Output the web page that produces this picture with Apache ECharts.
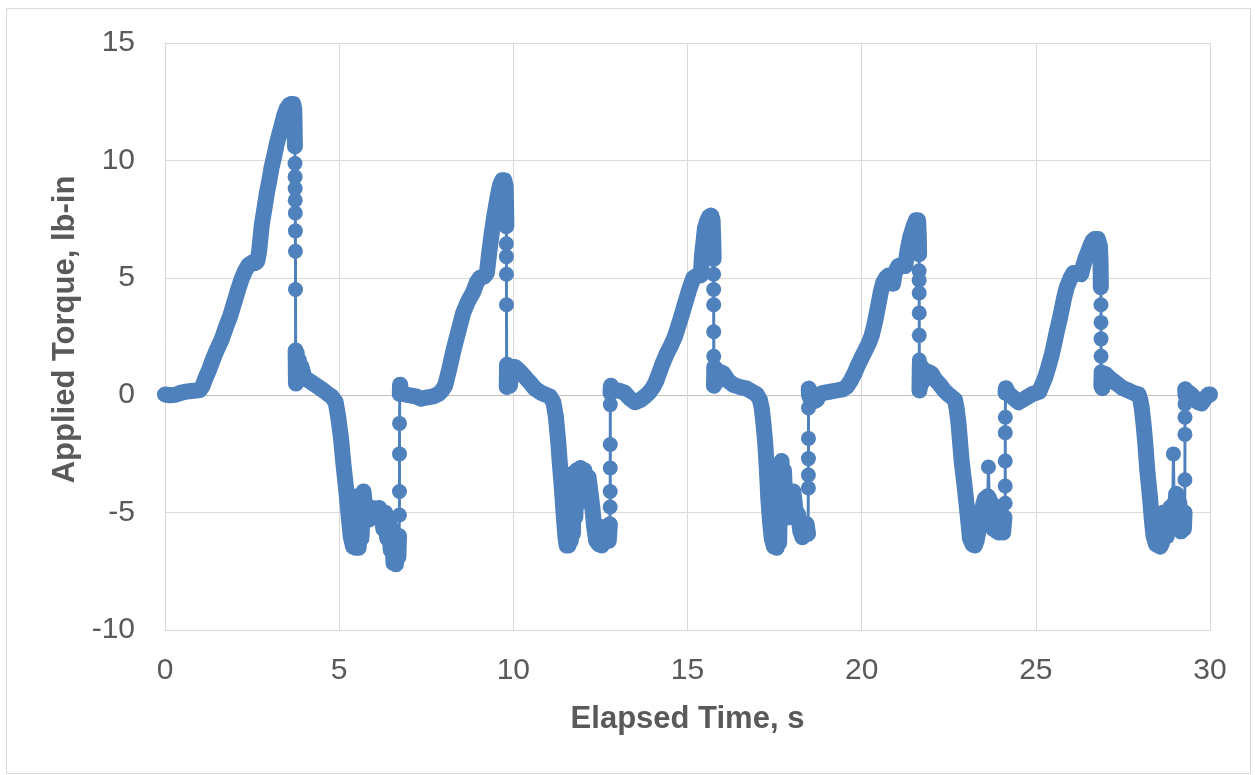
<!DOCTYPE html>
<html><head><meta charset="utf-8">
<script src="https://cdn.jsdelivr.net/npm/echarts@6/dist/echarts.min.js"></script>
<style>html,body{margin:0;padding:0;background:#fff}#c{width:1255px;height:775px}</style>
</head><body><div id="c"></div>
<script>
// Axis ticks
const xTicks = [0, 5, 10, 15, 20, 25, 30];
const yTicks = [-10, -5, 0, 5, 10, 15];

// Data segments [time s, torque lb-in], in time order
const climb1 = [[0,0.03],[0.15,0.0],[0.3,0.02],[0.45,0.1],[0.6,0.15],[0.75,0.18],[0.9,0.2],[1.0,0.22],[1.08,0.4],[1.15,0.68],[1.27,1.1],[1.39,1.58],[1.51,2.0],[1.63,2.39],[1.75,2.9],[1.87,3.37],[1.98,3.9],[2.1,4.5],[2.2,4.95],[2.3,5.3],[2.4,5.55],[2.49,5.64],[2.58,5.62],[2.65,5.7],[2.7,6.1],[2.78,7.27],[2.85,7.9],[2.92,8.57],[2.99,9.1],[3.06,9.7],[3.14,10.2],[3.21,10.7],[3.28,11.1],[3.35,11.5],[3.42,11.9],[3.49,12.2],[3.56,12.35],[3.62,12.4],[3.68,12.4],[3.71,12.2],[3.72,11.6],[3.73,10.6]];
const drop1 = [[3.733,9.87],[3.735,9.3],[3.737,8.8],[3.739,8.3],[3.741,7.76],[3.743,7.0],[3.745,6.13],[3.747,4.5]];
const trough1 = [[3.75,1.9],[3.76,0.5],[3.78,1.8],[3.8,0.6],[3.84,1.5],[3.88,0.8],[3.92,1.2],[4.0,0.75],[4.1,0.65],[4.25,0.5],[4.4,0.35],[4.55,0.2],[4.68,0.05],[4.78,-0.05],[4.9,-0.3],[4.97,-0.9],[5.05,-1.8],[5.12,-2.9],[5.2,-4.0],[5.27,-5.1],[5.33,-6.0],[5.4,-6.45],[5.44,-4.6],[5.48,-6.5],[5.52,-4.3],[5.56,-6.5],[5.6,-4.5],[5.64,-6.1],[5.7,-4.1],[5.76,-5.0],[5.85,-5.3],[5.95,-4.8],[6.05,-5.0],[6.15,-4.8],[6.22,-5.2],[6.27,-5.7],[6.32,-5.0],[6.38,-6.1],[6.43,-5.3],[6.48,-6.6],[6.52,-5.7],[6.56,-7.15],[6.6,-6.1],[6.63,-7.2],[6.67,-6.3],[6.7,-6.9],[6.72,-6.0]];
const jump1 = [[6.73,-5.1],[6.731,-4.1],[6.732,-2.5],[6.733,-1.2]];
const climb2 = [[6.74,0.05],[6.75,0.45],[6.77,0.2],[6.85,0.05],[7.0,0.0],[7.2,-0.05],[7.35,-0.15],[7.5,-0.1],[7.7,-0.05],[7.85,0.05],[7.95,0.2],[8.04,0.4],[8.16,1.1],[8.28,1.9],[8.42,2.7],[8.56,3.5],[8.7,4.0],[8.85,4.4],[8.95,4.8],[9.04,5.0],[9.16,5.05],[9.24,5.2],[9.31,6.1],[9.38,6.9],[9.45,7.6],[9.52,8.2],[9.57,8.6],[9.62,8.95],[9.68,9.15],[9.74,9.15],[9.78,8.9],[9.79,8.2],[9.8,7.2]];
const drop2 = [[9.8,6.45],[9.801,5.9],[9.802,5.15],[9.803,3.85]];
const trough2 = [[9.81,0.35],[9.82,1.3],[9.84,0.5],[9.86,1.2],[9.9,0.4],[9.95,1.0],[10.05,1.2],[10.2,1.0],[10.34,0.76],[10.5,0.5],[10.62,0.28],[10.78,0.12],[10.91,0.03],[11.05,-0.05],[11.15,-0.3],[11.22,-0.9],[11.29,-2.0],[11.34,-3.0],[11.4,-4.1],[11.45,-5.2],[11.5,-6.1],[11.53,-6.4],[11.56,-4.5],[11.59,-6.4],[11.62,-4.0],[11.65,-6.2],[11.68,-3.6],[11.71,-5.9],[11.74,-3.3],[11.78,-5.2],[11.82,-3.2],[11.88,-4.6],[11.93,-3.1],[11.98,-4.3],[12.04,-3.2],[12.1,-4.0],[12.16,-3.5],[12.22,-4.2],[12.27,-4.8],[12.32,-5.6],[12.38,-6.2],[12.45,-6.35],[12.5,-5.6],[12.54,-6.4],[12.62,-6.2],[12.68,-5.6],[12.74,-6.2],[12.77,-5.5]];
const jump2 = [[12.78,-4.76],[12.781,-4.1],[12.782,-3.1],[12.783,-2.1],[12.784,-0.4]];
const climb3 = [[12.79,0.1],[12.8,0.4],[12.85,0.2],[13.02,0.2],[13.2,0.1],[13.35,-0.15],[13.5,-0.3],[13.65,-0.2],[13.78,-0.05],[13.92,0.15],[14.02,0.36],[14.1,0.6],[14.2,1.0],[14.3,1.4],[14.4,1.75],[14.52,2.1],[14.64,2.5],[14.79,3.2],[14.93,3.9],[15.05,4.5],[15.17,5.0],[15.28,5.1],[15.38,5.1],[15.42,6.0],[15.5,7.1],[15.56,7.4],[15.62,7.6],[15.68,7.65],[15.72,7.45],[15.74,6.6],[15.75,5.8]];
const drop3 = [[15.75,5.15],[15.751,4.5],[15.752,3.85],[15.753,2.7],[15.754,1.66]];
const trough3 = [[15.76,0.4],[15.77,1.2],[15.79,0.5],[15.82,1.1],[15.86,0.6],[15.92,1.0],[16.03,0.93],[16.18,0.6],[16.32,0.44],[16.5,0.35],[16.7,0.28],[16.85,0.15],[16.99,0.03],[17.08,-0.2],[17.13,-0.54],[17.18,-1.2],[17.23,-2.0],[17.28,-3.2],[17.32,-4.4],[17.37,-5.4],[17.42,-6.1],[17.48,-6.45],[17.52,-5.2],[17.56,-6.5],[17.6,-4.5],[17.63,-6.3],[17.67,-3.5],[17.7,-2.8],[17.73,-4.8],[17.77,-3.2],[17.82,-5.0],[17.85,-4.4],[17.9,-5.2],[17.95,-4.2],[18.0,-4.8],[18.04,-4.1],[18.1,-4.9],[18.18,-5.1],[18.24,-5.8],[18.3,-6.05],[18.36,-5.95],[18.42,-5.5],[18.46,-5.9]];
const jump3 = [[18.47,-3.95],[18.471,-3.4],[18.472,-2.7],[18.473,-1.84],[18.474,-0.54]];
const climb4 = [[18.48,0.28],[18.49,0.0],[18.55,-0.2],[18.65,-0.25],[18.71,-0.2],[18.8,0.05],[18.9,0.1],[19.1,0.15],[19.28,0.2],[19.45,0.25],[19.57,0.36],[19.68,0.6],[19.8,0.95],[19.9,1.3],[20.0,1.6],[20.1,1.9],[20.2,2.2],[20.29,2.55],[20.38,3.1],[20.48,3.85],[20.55,4.4],[20.62,4.8],[20.7,5.0],[20.77,5.1],[20.86,5.1],[20.9,4.75],[20.95,5.2],[21.05,5.5],[21.15,5.55],[21.25,5.5],[21.32,6.2],[21.39,6.7],[21.48,7.15],[21.56,7.45],[21.62,7.45],[21.64,6.8],[21.65,6.0]];
const drop4 = [[21.65,5.3],[21.651,4.9],[21.652,4.35],[21.653,3.5],[21.654,2.55],[21.655,1.5]];
const trough4a = [[21.66,0.2],[21.67,1.3],[21.69,0.4],[21.72,1.2],[21.76,0.6],[21.82,1.0],[21.9,1.0],[22.0,0.93],[22.12,0.65],[22.25,0.44],[22.37,0.2],[22.49,0.03],[22.6,-0.1],[22.68,-0.2],[22.73,-0.6],[22.78,-1.2],[22.87,-2.8],[22.95,-3.8],[23.02,-4.76],[23.07,-5.5],[23.11,-6.1],[23.18,-6.35],[23.25,-6.4],[23.3,-6.2],[23.35,-5.8],[23.4,-5.3],[23.45,-5.25],[23.5,-4.6],[23.54,-4.4],[23.58,-5.2],[23.62,-4.3]];
const spike4 = [[23.64,-3.06]];
const trough4b = [[23.66,-4.4],[23.7,-5.5],[23.73,-4.6],[23.78,-5.7],[23.83,-4.8],[23.88,-5.8],[23.94,-5.85],[24.0,-5.6],[24.06,-5.85],[24.1,-5.2]];
const jump4 = [[24.12,-4.6],[24.121,-3.87],[24.122,-2.8],[24.123,-1.6],[24.124,-0.94]];
const climb5 = [[24.13,0.1],[24.14,0.3],[24.2,0.1],[24.31,-0.05],[24.42,-0.2],[24.5,-0.3],[24.62,-0.2],[24.79,-0.05],[24.9,0.05],[25.0,0.1],[25.1,0.15],[25.27,0.76],[25.36,1.2],[25.46,1.74],[25.53,2.2],[25.6,2.7],[25.68,3.2],[25.75,3.7],[25.82,4.2],[25.89,4.6],[26.0,5.0],[26.08,5.2],[26.2,5.2],[26.3,5.15],[26.36,5.5],[26.42,5.8],[26.5,6.1],[26.56,6.35],[26.62,6.55],[26.68,6.65],[26.78,6.65],[26.84,6.35],[26.86,5.6],[26.865,4.6]];
const drop5 = [[26.87,3.85],[26.871,3.1],[26.872,2.4],[26.873,1.66],[26.874,1.0]];
const trough5a = [[26.88,0.4],[26.89,0.9],[26.91,0.3],[26.95,0.8],[27.0,0.9],[27.09,0.76],[27.23,0.6],[27.37,0.44],[27.5,0.3],[27.66,0.2],[27.8,0.1],[27.95,0.03],[28.0,-0.2],[28.04,-0.54],[28.09,-1.2],[28.14,-2.0],[28.2,-3.2],[28.28,-4.4],[28.33,-5.3],[28.38,-6.0],[28.45,-6.35],[28.57,-6.45],[28.62,-6.3],[28.66,-5.0],[28.7,-5.6],[28.76,-6.0],[28.8,-5.2],[28.85,-4.8],[28.9,-5.5],[28.93,-4.8]];
const spike5 = [[28.95,-2.5]];
const trough5b = [[28.97,-4.6],[29.0,-5.2],[29.03,-4.2],[29.08,-5.5],[29.12,-4.6],[29.17,-5.8],[29.21,-5.0],[29.25,-5.7],[29.27,-5.0]];
const jump5 = [[29.28,-3.6],[29.281,-1.67],[29.282,-0.94],[29.283,-0.37]];
const tail = [[29.29,0.25],[29.3,0.0],[29.35,0.15],[29.45,0.05],[29.57,-0.13],[29.66,-0.3],[29.76,-0.35],[29.85,-0.15],[29.96,0.03],[30.0,0.03]];

const allPoints = [].concat(climb1, drop1, trough1, jump1, climb2, drop2, trough2, jump2,
  climb3, drop3, trough3, jump3, climb4, drop4, trough4a, spike4, trough4b, jump4,
  climb5, drop5, trough5a, spike5, trough5b, jump5, tail);
const denseRuns = [climb1, trough1, climb2, trough2, climb3, trough3, climb4,
  trough4a, trough4b, climb5, trough5a, trough5b, tail];

const BLUE = '#4f81bd';
const TXT = '#595959';
const FONT = '"Liberation Sans", Arial, sans-serif';

const series = denseRuns.map(run => ({
  type: 'line', data: run, showSymbol: false, clip: false, z: 2,
  lineStyle: {color: BLUE, width: 16, cap: 'round', join: 'round'},
  itemStyle: {color: BLUE}, silent: true, animation: false
}));
series.push({
  type: 'line', name: 'Applied Torque', data: allPoints, clip: false, z: 3,
  symbol: 'circle', symbolSize: 15, showSymbol: true,
  lineStyle: {color: BLUE, width: 3}, itemStyle: {color: BLUE},
  animation: false
});

const chart = echarts.init(document.getElementById('c'), null, {renderer: 'canvas'});
chart.setOption({
  animation: false,
  backgroundColor: '#ffffff',
  graphic: [{type: 'rect', shape: {x: 6.5, y: 8.5, width: 1244, height: 765},
    style: {fill: 'none', stroke: '#d9d9d9', lineWidth: 1}, silent: true}],
  grid: {left: 165, right: 45, top: 43, bottom: 145, containLabel: false},
  xAxis: {
    type: 'value', min: xTicks[0], max: xTicks[xTicks.length - 1], interval: 5,
    name: 'Elapsed Time, s', nameLocation: 'middle', nameGap: 74,
    nameTextStyle: {color: TXT, fontSize: 31, fontWeight: 'bold', fontFamily: FONT},
    axisLine: {show: true, onZero: false, lineStyle: {color: '#d9d9d9', width: 1}},
    axisTick: {show: false},
    axisLabel: {color: TXT, fontSize: 30, fontFamily: FONT, margin: 26},
    splitLine: {show: true, lineStyle: {color: '#d9d9d9', width: 1}}
  },
  yAxis: {
    type: 'value', min: yTicks[0], max: yTicks[yTicks.length - 1], interval: 5,
    name: 'Applied Torque, lb-in', nameLocation: 'middle', nameGap: 84,
    nameTextStyle: {color: TXT, fontSize: 31, fontWeight: 'bold', fontFamily: FONT, padding: [0, 0, 0, 14]},
    axisLine: {show: true, lineStyle: {color: '#d9d9d9', width: 1}},
    axisTick: {show: false},
    axisLabel: {color: TXT, fontSize: 30, fontFamily: FONT, margin: 30},
    splitLine: {show: true, lineStyle: {color: ['#d9d9d9', '#d9d9d9', '#bfbfbf', '#d9d9d9', '#d9d9d9', '#d9d9d9'], width: 1}}
  },
  series: series
});
</script>
</body></html>
